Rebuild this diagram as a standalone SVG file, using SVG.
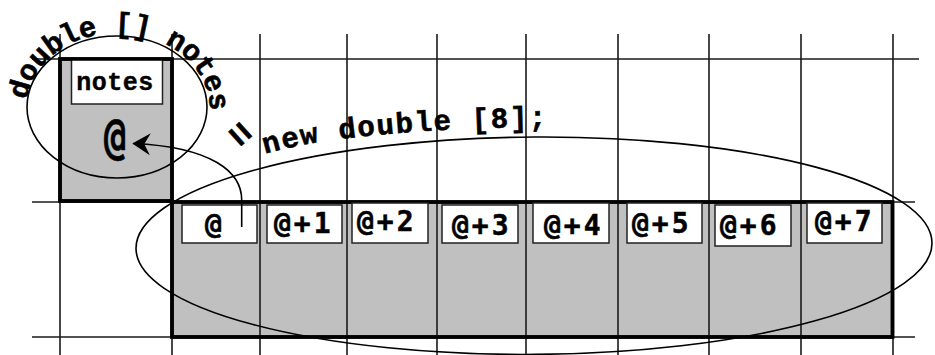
<svg xmlns="http://www.w3.org/2000/svg" width="935" height="355" viewBox="0 0 935 355">
<style>
.bg{fill:#fff}
.grid{stroke:#1a1a1a;stroke-width:1.6;fill:none}
.box{fill:#c0c0c0;stroke:#000;stroke-width:3.5}
.lbl{fill:#fff;stroke:#222;stroke-width:1.5}
.ell{fill:none;stroke:#000;stroke-width:1.6}
.sans{font-family:"DejaVu Sans Mono",monospace;font-weight:bold;fill:#000;stroke:#000;stroke-width:0.5}
.cell{font-size:28px;letter-spacing:3px}
.cour{font-family:"Liberation Mono","Courier New",monospace;font-weight:bold;font-size:29px;fill:#000;stroke:#000;stroke-width:0.6}
.conn{fill:none;stroke:#000;stroke-width:1.6}
</style>
<defs>
<marker id="ah" markerUnits="userSpaceOnUse" markerWidth="18" markerHeight="22" viewBox="0 0 18 22" refX="17" refY="11" orient="auto">
<path d="M0,0 L18,11 L0,22 L6,11 Z" fill="#000"/>
</marker>
<path id="arcA" d="M 26.8,120 A 92,77 0 1 1 209.2,120"/>
<path id="arcB" d="M 265,154 C 325,136 430,128 570,126"/>
</defs>
<rect class="bg" x="0" y="0" width="935" height="355"/>

<g id="notes">
<rect class="box" x="60" y="59" width="112" height="142"/>
<rect class="lbl" x="71.5" y="59" width="91" height="45"/>
<text class="cour" x="115" y="89.5" text-anchor="middle" style="font-size:25px;letter-spacing:0.5px;stroke-width:0.4">notes</text>
<text class="sans" transform="translate(115,153) scale(0.8,1.1)" x="0" y="0" text-anchor="middle" style="font-size:46px">@</text>
</g>

<g id="array">
<rect class="box" x="172" y="202" width="720.5" height="135"/>
</g>

<g id="grid">
<line class="grid" x1="32" y1="59" x2="919" y2="59"/>
<line class="grid" x1="32" y1="202" x2="915" y2="202"/>
<line class="grid" x1="32" y1="337" x2="915" y2="337"/>
<line class="grid" x1="60" y1="34" x2="60" y2="355"/>
<line class="grid" x1="172" y1="34" x2="172" y2="355"/>
<line class="grid" x1="260" y1="34" x2="260" y2="355"/>
<line class="grid" x1="347" y1="34" x2="347" y2="355"/>
<line class="grid" x1="437" y1="34" x2="437" y2="355"/>
<line class="grid" x1="526" y1="34" x2="526" y2="355"/>
<line class="grid" x1="618" y1="34" x2="618" y2="355"/>
<line class="grid" x1="709" y1="34" x2="709" y2="355"/>
<line class="grid" x1="801" y1="34" x2="801" y2="355"/>
<line class="grid" x1="893" y1="34" x2="893" y2="355"/>
</g>

<g id="borders" fill="none" stroke="#000" stroke-width="3.5">
<rect x="60" y="59" width="112" height="142"/>
<rect x="172" y="202" width="720.5" height="135"/>
</g>

<g id="cell0"><rect class="lbl" x="182" y="205" width="75" height="38"/><text class="sans cell" x="205" y="234">@</text></g>
<g id="cell1"><rect class="lbl" x="267" y="205" width="75" height="38"/><text class="sans cell" x="274" y="233">@+1</text></g>
<g id="cell2"><rect class="lbl" x="352" y="203" width="76" height="40"/><text class="sans cell" x="357" y="231">@+2</text></g>
<g id="cell3"><rect class="lbl" x="442" y="205" width="76" height="38"/><text class="sans cell" x="452" y="235">@+3</text></g>
<g id="cell4"><rect class="lbl" x="533" y="203" width="76" height="40"/><text class="sans cell" x="544" y="235">@+4</text></g>
<g id="cell5"><rect class="lbl" x="627" y="203" width="75" height="40"/><text class="sans cell" x="632" y="233">@+5</text></g>
<g id="cell6"><rect class="lbl" x="715" y="205" width="76" height="41"/><text class="sans cell" x="720" y="235">@+6</text></g>
<g id="cell7"><rect class="lbl" x="807" y="203" width="75" height="40"/><text class="sans cell" x="815" y="231">@+7</text></g>

<g id="declaration">
<ellipse class="ell" cx="117" cy="107" rx="90" ry="71"/>
<text class="cour" style="letter-spacing:-0.3px"><textPath href="#arcA" startOffset="20">double [] notes</textPath></text>
</g>

<g id="allocation">
<ellipse class="ell" cx="534" cy="245.7" rx="398" ry="108.7" transform="rotate(-0.4 534 245.7)"/>
<text class="cour" transform="translate(239,135) rotate(48)" x="0" y="11" text-anchor="middle" style="font-size:38px">=</text>
<text class="cour" style="letter-spacing:1.6px"><textPath href="#arcB">new double [8];</textPath></text>
</g>

<g id="connectors">
<path class="conn" d="M241.7,227 L241.7,200 C241.7,172 212,147 133.3,143.5" marker-end="url(#ah)"/>
</g>
</svg>
